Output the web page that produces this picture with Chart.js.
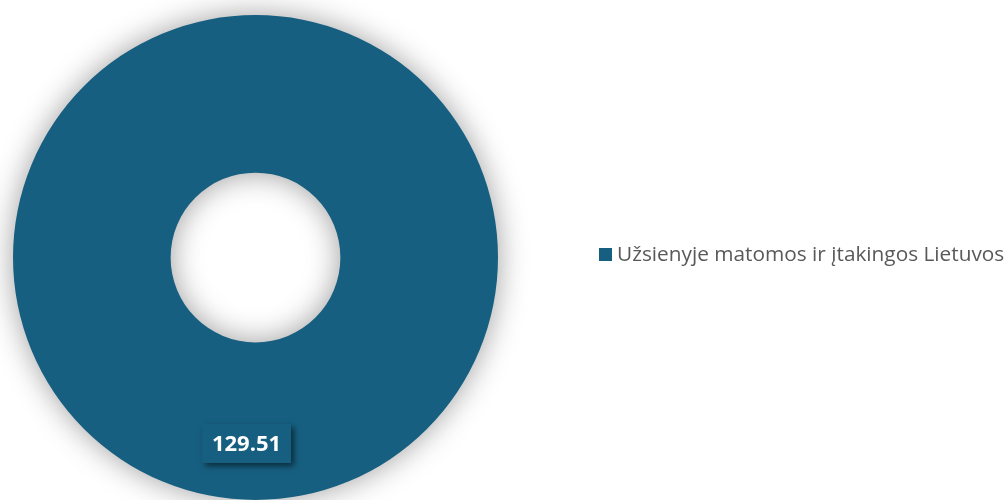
<!DOCTYPE html>
<html>
<head>
<meta charset="utf-8">
<script src="https://cdn.jsdelivr.net/npm/chart.js@4/dist/chart.umd.min.js"></script>
<style>
html,body{margin:0;padding:0;background:#fff;}
#wrap{width:1007px;height:500px;position:relative;}
</style>
</head>
<body>
<div id="wrap"><canvas id="c" width="1007" height="500"></canvas></div>
<script>
const categories = ["Užsienyje matomos ir įtakingos Lietuvos"];
const values = [129.51];
const valueLabels = ["129.51"];
const colors = ["#175F80"];

const shadowPlugin = {
  id: 'ringShadow',
  beforeDatasetsDraw(chart) {
    const ctx = chart.ctx;
    ctx.save();
    ctx.shadowColor = 'rgba(0,0,0,0.38)';
    ctx.shadowBlur = 30;
    ctx.shadowOffsetX = 0;
    ctx.shadowOffsetY = 0;
  },
  afterDatasetsDraw(chart) {
    chart.ctx.restore();
  }
};

const labelPlugin = {
  id: 'valueLabel',
  afterDatasetsDraw(chart) {
    const ctx = chart.ctx;
    const meta = chart.getDatasetMeta(0);
    meta.data.forEach((arc, i) => {
      const p = arc.getProps(['x','y','innerRadius','outerRadius'], true);
      const cx = p.x - 9;
      const cy = p.y + 186;
      ctx.save();
      ctx.font = 'bold 22px "Open Sans", sans-serif';
      const w = 89, h = 39;
      ctx.shadowColor = 'rgba(0,0,0,0.55)';
      ctx.shadowBlur = 6;
      ctx.shadowOffsetX = 3;
      ctx.shadowOffsetY = 3;
      ctx.fillStyle = colors[i];
      ctx.fillRect(cx - w/2, cy - h/2, w, h);
      ctx.shadowColor = 'transparent';
      ctx.fillStyle = '#ffffff';
      ctx.textAlign = 'center';
      ctx.textBaseline = 'middle';
      ctx.fillText(valueLabels[i], cx, cy + 1);
      ctx.restore();
    });
  }
};

const legendPlugin = {
  id: 'sideLegend',
  afterDraw(chart) {
    const ctx = chart.ctx;
    ctx.save();
    const x0 = 599, y0 = 255;
    chart.data.labels.forEach((lab, i) => {
      ctx.fillStyle = chart.data.datasets[0].backgroundColor[i];
      ctx.fillRect(x0, y0 - 7, 13, 13);
      ctx.fillStyle = '#595959';
      ctx.font = '20.8px "Open Sans", sans-serif';
      ctx.textAlign = 'left';
      ctx.textBaseline = 'middle';
      ctx.fillText(lab, x0 + 18, y0);
    });
    ctx.restore();
  }
};

new Chart(document.getElementById('c'), {
  type: 'doughnut',
  data: {
    labels: categories,
    datasets: [{
      data: values,
      backgroundColor: colors,
      borderWidth: 0,
      hoverOffset: 0
    }]
  },
  options: {
    responsive: false,
    animation: false,
    cutout: '35%',
    layout: { padding: { left: 11, right: 507, top: 15, bottom: -3 } },
    plugins: {
      legend: { display: false },
      tooltip: { enabled: false }
    }
  },
  plugins: [shadowPlugin, labelPlugin, legendPlugin]
});
</script>
</body>
</html>
